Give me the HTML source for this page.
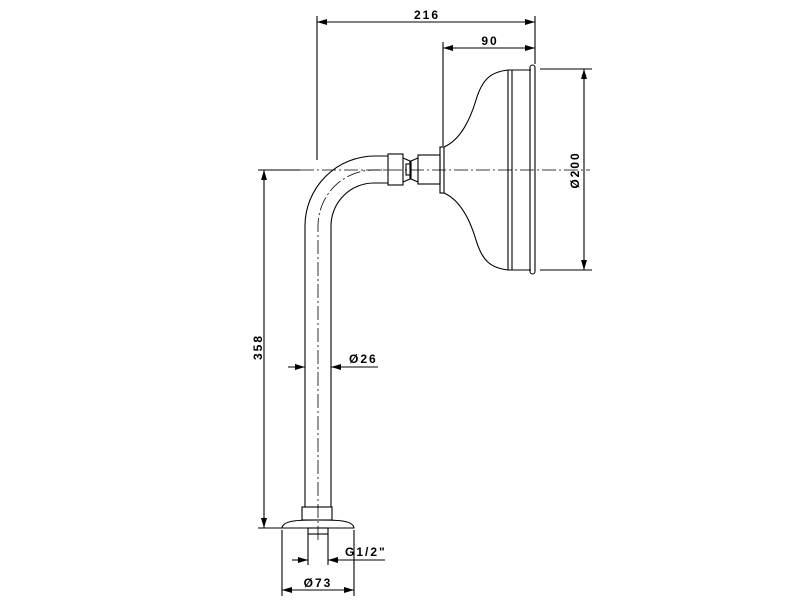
<!DOCTYPE html>
<html><head><meta charset="utf-8"><style>
html,body{margin:0;padding:0;background:#fff}
svg{display:block}
text{font-family:"Liberation Sans",sans-serif;font-weight:bold;font-size:12px;fill:#000;letter-spacing:2px}
</style></head><body>
<svg width="800" height="600" viewBox="0 0 800 600" xmlns="http://www.w3.org/2000/svg">
<defs>
<marker id="a" viewBox="0 0 10 6" refX="10" refY="3" markerWidth="10" markerHeight="6" orient="auto-start-reverse" markerUnits="userSpaceOnUse"><path d="M0,0 L10,3 L0,6 z" fill="#000"/></marker>
</defs>
<g stroke="#000" fill="none" stroke-width="1.1">
<line x1="317" y1="16" x2="317" y2="160"/>
<line x1="535" y1="16" x2="535" y2="64"/>
<line x1="317" y1="22" x2="535" y2="22" marker-start="url(#a)" marker-end="url(#a)"/>
<line x1="443" y1="42" x2="443" y2="146"/>
<line x1="443" y1="48" x2="535" y2="48" marker-start="url(#a)" marker-end="url(#a)"/>
<line x1="540" y1="69" x2="592" y2="69"/>
<line x1="540" y1="270" x2="592" y2="270"/>
<line x1="584" y1="69" x2="584" y2="270" marker-start="url(#a)" marker-end="url(#a)"/>
<line x1="258" y1="170" x2="300" y2="170"/>
<line x1="258" y1="528" x2="282" y2="528"/>
<line x1="264" y1="170" x2="264" y2="528" marker-start="url(#a)" marker-end="url(#a)"/>
<line x1="300" y1="170" x2="590" y2="170" stroke-dasharray="14,3,2,3" stroke-width="0.8"/>
<path d="M318,540 L318,226 A56,56 0 0 1 374,170 L390,170" stroke-dasharray="14,3,2,3" stroke-width="0.8"/>
<path d="M305,507 L305,226 A70,70 0 0 1 375,156 L388,156"/>
<path d="M331,507 L331,226 A43,43 0 0 1 374,183 L388,183"/>
<rect x="388" y="154" width="15" height="31"/>
<path d="M403,158 L410,161 L410,179 L403,182"/>
<path d="M418,158 L411,161 L411,179 L418,182"/>
<rect x="406" y="164" width="5" height="11"/>
<rect x="418" y="155" width="22" height="29"/>
<rect x="440" y="147" width="4" height="46"/>
<path d="M444,147 C460,140 470,120 476,100 C482,80 490,72 508,70"/>
<path d="M444,193 C460,200 470,220 476,240 C482,260 490,268 508,270"/>
<line x1="508" y1="70" x2="508" y2="270"/>
<line x1="512" y1="70" x2="512" y2="270"/>
<line x1="508" y1="70" x2="531" y2="70"/>
<line x1="508" y1="270" x2="531" y2="270"/>
<rect x="530" y="65" width="5" height="209" rx="2.5"/>
<rect x="302" y="507" width="30" height="13"/>
<path d="M282,528 C283,520 300,520 318,520 C336,520 353,520 354,528 Z"/>
<rect x="308" y="528" width="20" height="6"/>
<line x1="308" y1="534" x2="308" y2="565"/>
<line x1="328" y1="534" x2="328" y2="565"/>
<line x1="292" y1="560" x2="308" y2="560" marker-end="url(#a)"/>
<line x1="385" y1="560" x2="328" y2="560" marker-end="url(#a)"/>
<line x1="282" y1="530" x2="282" y2="596"/>
<line x1="354" y1="530" x2="354" y2="596"/>
<line x1="282" y1="590" x2="354" y2="590" marker-start="url(#a)" marker-end="url(#a)"/>
<line x1="288" y1="367" x2="305" y2="367" marker-end="url(#a)"/>
<line x1="378" y1="367" x2="331" y2="367" marker-end="url(#a)"/>
</g>
<text x="427" y="19" text-anchor="middle">216</text>
<text x="490" y="45" text-anchor="middle">90</text>
<text x="349" y="363">Ø26</text>
<text x="345" y="556">G1/2"</text>
<text x="318" y="587" text-anchor="middle">Ø73</text>
<text transform="translate(262,347) rotate(-90)" text-anchor="middle">358</text>
<text transform="translate(579,170) rotate(-90)" text-anchor="middle">Ø200</text>
</svg>
</body></html>
